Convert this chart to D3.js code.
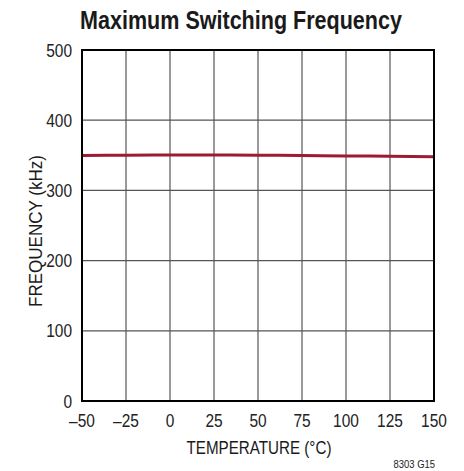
<!DOCTYPE html>
<html>
<head>
<meta charset="utf-8">
<script src="https://cdn.jsdelivr.net/npm/d3@7"></script>
<style>
  html, body { margin: 0; padding: 0; background: #fff; }
  svg { display: block; font-family: "Liberation Sans Narrow", "Arial Narrow", "Liberation Sans", sans-serif; }
</style>
</head>
<body>
<svg id="chart" width="464" height="471"></svg>
<script>
// Maximum switching frequency vs temperature
const temperature = [-50, -25, 0, 25, 50, 75, 100, 125, 150];
const frequency = [349.6, 350.1, 350.4, 350.4, 350.1, 349.7, 349.1, 348.6, 348.1];
const xTicks = [-50, -25, 0, 25, 50, 75, 100, 125, 150];
const yTicks = [0, 100, 200, 300, 400, 500];

const svg = d3.select("#chart");
const m = { left: 82, right: 434, top: 50, bottom: 401 };

const x = d3.scaleLinear().domain([-50, 150]).range([m.left, m.right]);
const y = d3.scaleLinear().domain([0, 500]).range([m.bottom, m.top]);

// grid
svg.append("g").selectAll("line").data(xTicks.slice(1, -1)).join("line")
  .attr("x1", d => x(d)).attr("x2", d => x(d))
  .attr("y1", m.top).attr("y2", m.bottom)
  .attr("stroke", "#555").attr("stroke-width", 1.2);
svg.append("g").selectAll("line").data(yTicks.slice(1, -1)).join("line")
  .attr("x1", m.left).attr("x2", m.right)
  .attr("y1", d => y(d)).attr("y2", d => y(d))
  .attr("stroke", "#555").attr("stroke-width", 1.2);

// data line
const line = d3.line().x((d, i) => x(temperature[i])).y(d => y(d)).curve(d3.curveMonotoneX);
svg.append("path").datum(frequency)
  .attr("d", line).attr("fill", "none")
  .attr("stroke", "#9c1a32").attr("stroke-width", 3);

// frame
svg.append("rect")
  .attr("x", m.left).attr("y", m.top)
  .attr("width", m.right - m.left).attr("height", m.bottom - m.top)
  .attr("fill", "none").attr("stroke", "#000").attr("stroke-width", 2);

// condensed text: horizontal squeeze around the anchor point
const narrow = 0.86;

svg.append("g").selectAll("text").data(yTicks).join("text")
  .attr("transform", d => `translate(${m.left - 10},${y(d) + 6.5}) scale(${narrow},1)`)
  .attr("text-anchor", "end").attr("font-size", 18).attr("fill", "#222")
  .text(d => d);
svg.append("g").selectAll("text").data(xTicks).join("text")
  .attr("transform", d => `translate(${x(d)},${m.bottom + 26}) scale(${narrow},1)`)
  .attr("text-anchor", "middle").attr("font-size", 18).attr("fill", "#222")
  .text(d => d < 0 ? "\u2013" + Math.abs(d) : d);

// squeeze a label horizontally so it spans the given width
function fitted(str, size, weight, width, place) {
  const t = svg.append("text")
    .attr("text-anchor", "middle").attr("font-size", size)
    .attr("font-weight", weight).attr("fill", "#1a1a1a").text(str);
  const k = Math.min(1, width / t.node().getComputedTextLength());
  t.attr("transform", `${place} scale(${k},1)`);
  return t;
}

fitted("Maximum Switching Frequency", 26, "bold", 322, "translate(241,29)");
fitted("TEMPERATURE (\u00B0C)", 18, "normal", 145, "translate(259,454)");
fitted("FREQUENCY (kHz)", 18, "normal", 152, "translate(42,231) rotate(-90)");

svg.append("text")
  .attr("transform", `translate(435,468) scale(${narrow},1)`)
  .attr("text-anchor", "end").attr("font-size", 11).attr("fill", "#222")
  .text("8303 G15");
</script>
</body>
</html>
